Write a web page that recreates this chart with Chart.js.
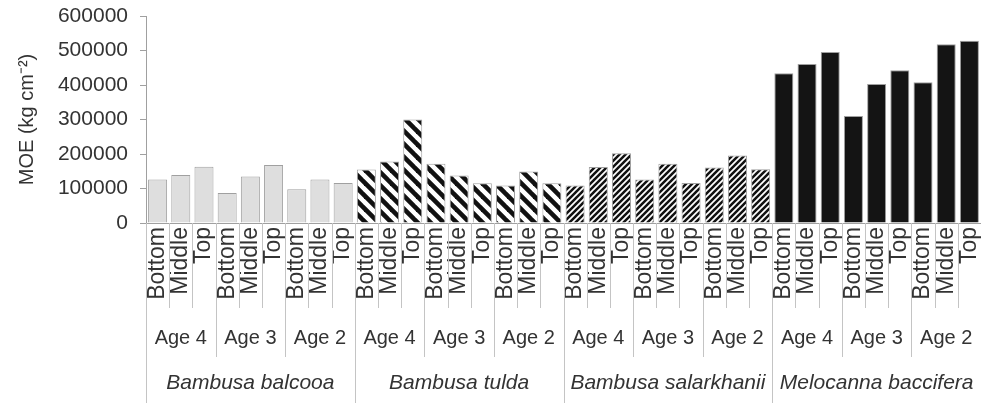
<!DOCTYPE html>
<html>
<head>
<meta charset="utf-8">
<script src="https://cdn.jsdelivr.net/npm/chart.js@4/dist/chart.umd.min.js"></script>
<style>
  html, body { margin: 0; padding: 0; background: #fff; }
  #wrap { width: 981px; height: 403px; position: relative; }
</style>
</head>
<body>
<div id="wrap"><canvas id="c"></canvas></div>
<script>
const species = ['Bambusa balcooa', 'Bambusa tulda', 'Bambusa salarkhanii', 'Melocanna baccifera'];
const ages = ['Age 4', 'Age 3', 'Age 2'];
const positions = ['Bottom', 'Middle', 'Top'];
const yTicks = [0, 100000, 200000, 300000, 400000, 500000, 600000];

const balcooa     = [126000, 139000, 163000,  87000, 135000, 168000,  98000, 126000, 116000];
const tulda       = [155000, 178000, 300000, 172000, 138000, 115000, 109000, 149000, 115000];
const salarkhanii = [109000, 162000, 202000, 126000, 172000, 116000, 161000, 196000, 156000];
const melocanna   = [434000, 461000, 496000, 310000, 403000, 443000, 408000, 518000, 528000];

const seriesBySpecies = [balcooa, tulda, salarkhanii, melocanna];

function stripes(period, width, dir) {
  const c = document.createElement('canvas');
  c.width = period; c.height = period;
  const g = c.getContext('2d');
  g.fillStyle = '#ffffff';
  g.fillRect(0, 0, period, period);
  g.strokeStyle = '#111111';
  g.lineWidth = width;
  g.lineCap = 'square';
  for (let k = -1; k <= 1; k++) {
    g.beginPath();
    if (dir === 'back') {
      g.moveTo(k * period, 0); g.lineTo(k * period + period, period);
    } else {
      g.moveTo(k * period, period); g.lineTo(k * period + period, 0);
    }
    g.stroke();
  }
  return g.createPattern(c, 'repeat');
}

const ctx = document.getElementById('c').getContext('2d');
const fills = ['#dedede', stripes(13, 4.6, 'back'), stripes(6, 2.5, 'fwd'), '#141414'];

const labels = [];
const values = [];
const colors = [];
seriesBySpecies.forEach((arr, s) => {
  arr.forEach((v, i) => {
    labels.push(positions[i % 3]);
    values.push(v);
    colors.push(fills[s]);
  });
});

const groupPlugin = {
  id: 'groups',
  afterDraw(chart) {
    const x = chart.scales.x;
    const top = chart.chartArea.bottom;
    const c = chart.ctx;
    const n = labels.length;
    const step = x.getPixelForValue(1) - x.getPixelForValue(0);
    const edge = i => x.getPixelForValue(i) - step / 2;
    c.save();
    c.strokeStyle = '#c4c4c4';
    c.lineWidth = 1;
    for (let i = 0; i < n; i++) {
      const px = Math.round(edge(i)) + 0.5;
      let len = 85;
      if (i % 9 === 0) len = 200;
      else if (i % 3 === 0) len = 134;
      c.beginPath();
      c.moveTo(px, top);
      c.lineTo(px, top + len);
      c.stroke();
    }
    c.fillStyle = '#333333';
    c.textAlign = 'center';
    c.textBaseline = 'middle';
    c.font = '20px "Liberation Sans", Arial, sans-serif';
    for (let s = 0; s < species.length; s++) {
      for (let a = 0; a < ages.length; a++) {
        const i0 = s * 9 + a * 3;
        const cx = (edge(i0) + edge(i0 + 3)) / 2;
        c.fillText(ages[a], cx, top + 115);
      }
    }
    c.font = 'italic 21px "Liberation Sans", Arial, sans-serif';
    for (let s = 0; s < species.length; s++) {
      const cx = (edge(s * 9) + edge(s * 9 + 9)) / 2;
      c.fillText(species[s], cx, top + 160);
    }
    c.restore();
  }
};

new Chart(ctx, {
  type: 'bar',
  data: {
    labels: labels,
    datasets: [{
      data: values,
      backgroundColor: colors,
      borderColor: '#a0a0a0',
      borderWidth: 1,
      barPercentage: 0.82,
      categoryPercentage: 1.0
    }]
  },
  options: {
    responsive: true,
    maintainAspectRatio: false,
    animation: false,
    layout: { padding: { top: 0, right: 0, bottom: 0, left: 0 } },
    plugins: { legend: { display: false }, tooltip: { enabled: false } },
    scales: {
      x: {
        grid: { display: false, drawTicks: false },
        border: { display: true, color: '#a0a0a0' },
        ticks: {
          autoSkip: false,
          minRotation: 90,
          maxRotation: 90,
          padding: 4,
          color: '#333333',
          font: { size: 23, family: '"Liberation Sans", Arial, sans-serif' }
        },
        afterFit(scale) {
          scale.height = 180;
          scale.paddingLeft = 0;
          scale.paddingRight = 0;
        }
      },
      y: {
        min: 0,
        max: 600000,
        afterBuildTicks(scale) { scale.ticks = yTicks.map(v => ({ value: v })); },
        grid: { display: true, drawOnChartArea: false, drawTicks: true, tickLength: 6, color: '#a0a0a0' },
        border: { display: true, color: '#a0a0a0' },
        ticks: {
          padding: 12,
          color: '#333333',
          font: { size: 21, family: '"Liberation Sans", Arial, sans-serif' },
          callback: v => String(v)
        },
        title: {
          display: true,
          text: 'MOE (kg cm\u207B\u00B2)',
          color: '#333333',
          font: { size: 20, family: '"Liberation Sans", Arial, sans-serif' },
          padding: { top: 15, bottom: 0 }
        },
        afterFit(scale) {
          scale.width = 146;
          scale.paddingTop = 16;
        }
      }
    }
  },
  plugins: [groupPlugin]
});
</script>
</body>
</html>
